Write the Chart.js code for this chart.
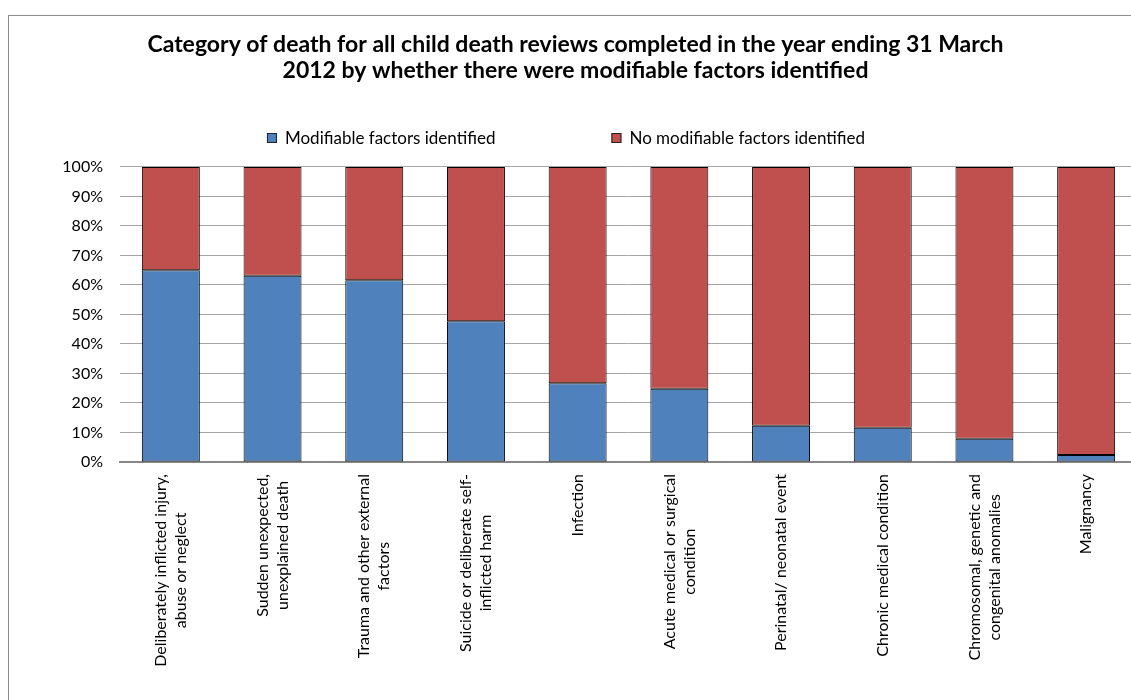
<!DOCTYPE html>
<html>
<head>
<meta charset="utf-8">
<script src="https://cdn.jsdelivr.net/npm/chart.js@4.4.1/dist/chart.umd.min.js"></script>
<style>
  html, body { margin: 0; padding: 0; background: #fff; overflow: hidden; width: 1131px; height: 700px; }
  #frame { position: absolute; left: 8px; top: 15px; width: 1160px; height: 720px; border: 1px solid #8c8c8c; box-sizing: border-box; }
  #c { position: absolute; left: 0; top: 0; }
</style>
</head>
<body>
<div id="frame"></div>
<canvas id="c" width="1145" height="700"></canvas>
<script>
// Categories of death (each label split into its printed lines)
const categories = [
  ["Deliberately inflicted injury,", "abuse or neglect"],
  ["Sudden unexpected,", "unexplained death"],
  ["Trauma and other external", "factors"],
  ["Suicide or deliberate self-", "inflicted harm"],
  ["Infection"],
  ["Acute medical or surgical", "condition"],
  ["Perinatal/ neonatal event"],
  ["Chronic medical condition"],
  ["Chromosomal, genetic and", "congenital anomalies"],
  ["Malignancy"]
];

// Share of reviews (%) in each category
const modifiableFactors   = [65.0, 63.1, 61.6, 47.7, 26.7, 24.8, 12.3, 11.6, 7.9, 2.4];
const noModifiableFactors = [35.0, 36.9, 38.4, 52.3, 73.3, 75.2, 87.7, 88.4, 92.1, 97.6];

const seriesNames = ["Modifiable factors identified", "No modifiable factors identified"];
const yTicks = [0, 10, 20, 30, 40, 50, 60, 70, 80, 90, 100];

const FONT = "Lato, 'Open Sans', sans-serif";

// Category labels: rotated a quarter turn, lines centred on each other,
// block hanging from just under the axis.
const rotatedCategoryLabels = {
  id: 'rotatedCategoryLabels',
  afterDraw(chart) {
    const ctx = chart.ctx;
    const xs = chart.scales.x;
    const top = xs.top + 12;
    const lineH = 20;
    ctx.save();
    ctx.font = "16px " + FONT;
    ctx.fillStyle = "#000";
    ctx.textAlign = "center";
    ctx.textBaseline = "middle";
    categories.forEach((lines, i) => {
      const x = xs.getPixelForValue(i);
      const w = Math.max(...lines.map(l => ctx.measureText(l).width));
      ctx.save();
      ctx.translate(x, top);
      ctx.rotate(-Math.PI / 2);
      lines.forEach((line, k) => {
        const off = (k - (lines.length - 1) / 2) * lineH;
        ctx.fillText(line, -w / 2, off);
      });
      ctx.restore();
    });
    ctx.restore();
  }
};

// Series key: one row with a wide gap between the two entries
const seriesKey = {
  id: 'seriesKey',
  afterDraw(chart) {
    const ctx = chart.ctx;
    const centreX = 566, centreY = 138;
    const box = 10, boxGap = 8, itemGap = 116;
    ctx.save();
    ctx.font = "17px " + FONT;
    ctx.textBaseline = "middle";
    ctx.textAlign = "left";
    const items = chart.data.datasets.map(ds => ({
      text: ds.label,
      color: ds.backgroundColor,
      w: box + boxGap + ctx.measureText(ds.label).width
    }));
    const total = items.reduce((s, it) => s + it.w, 0) + itemGap * (items.length - 1);
    let x = centreX - total / 2;
    items.forEach(it => {
      ctx.fillStyle = it.color;
      ctx.fillRect(x, centreY - box / 2, box, box);
      ctx.strokeStyle = '#222';
      ctx.lineWidth = 1;
      ctx.strokeRect(x + 0.5, centreY - box / 2 + 0.5, box - 1, box - 1);
      ctx.fillStyle = '#000';
      ctx.fillText(it.text, x + box + boxGap, centreY + 1);
      x += it.w + itemGap;
    });
    ctx.restore();
  }
};

new Chart(document.getElementById('c'), {
  type: 'bar',
  data: {
    labels: categories.map(l => l.join(' ')),
    datasets: [
      {
        label: seriesNames[0],
        data: modifiableFactors,
        backgroundColor: '#4F81BD',
        borderColor: '#000',
        borderWidth: 1,
        borderSkipped: false
      },
      {
        label: seriesNames[1],
        data: noModifiableFactors,
        backgroundColor: '#C0504D',
        borderColor: '#000',
        borderWidth: 1,
        borderSkipped: false
      }
    ]
  },
  options: {
    responsive: false,
    animation: false,
    barPercentage: 0.57,
    categoryPercentage: 1.0,
    layout: { padding: { left: 14, right: 8, top: 0, bottom: 0 } },
    plugins: {
      title: {
        display: true,
        text: [
          "Category of death for all child death reviews completed in the year ending 31 March",
          "2012 by whether there were modifiable factors identified"
        ],
        color: '#000',
        font: { family: FONT, size: 23, weight: 'bold', lineHeight: 1.13 },
        padding: { top: 32, bottom: 83 }
      },
      legend: { display: false },
      tooltip: { enabled: false }
    },
    scales: {
      x: {
        stacked: true,
        grid: { display: false },
        border: { display: true, color: '#878787', width: 2 },
        ticks: { display: false },
        afterFit(scale) { scale.height = 238; }
      },
      y: {
        stacked: true,
        min: 0,
        max: 100,
        afterBuildTicks(scale) { scale.ticks = yTicks.map(v => ({ value: v })); },
        grid: { color: '#a6a6a6', lineWidth: 1, drawTicks: false },
        border: { display: false },
        ticks: {
          color: '#000',
          font: { family: FONT, size: 16 },
          padding: 17,
          callback: v => v + '%'
        },
        afterFit(scale) { scale.width = 106; }
      }
    }
  },
  plugins: [rotatedCategoryLabels, seriesKey]
});
</script>
</body>
</html>
